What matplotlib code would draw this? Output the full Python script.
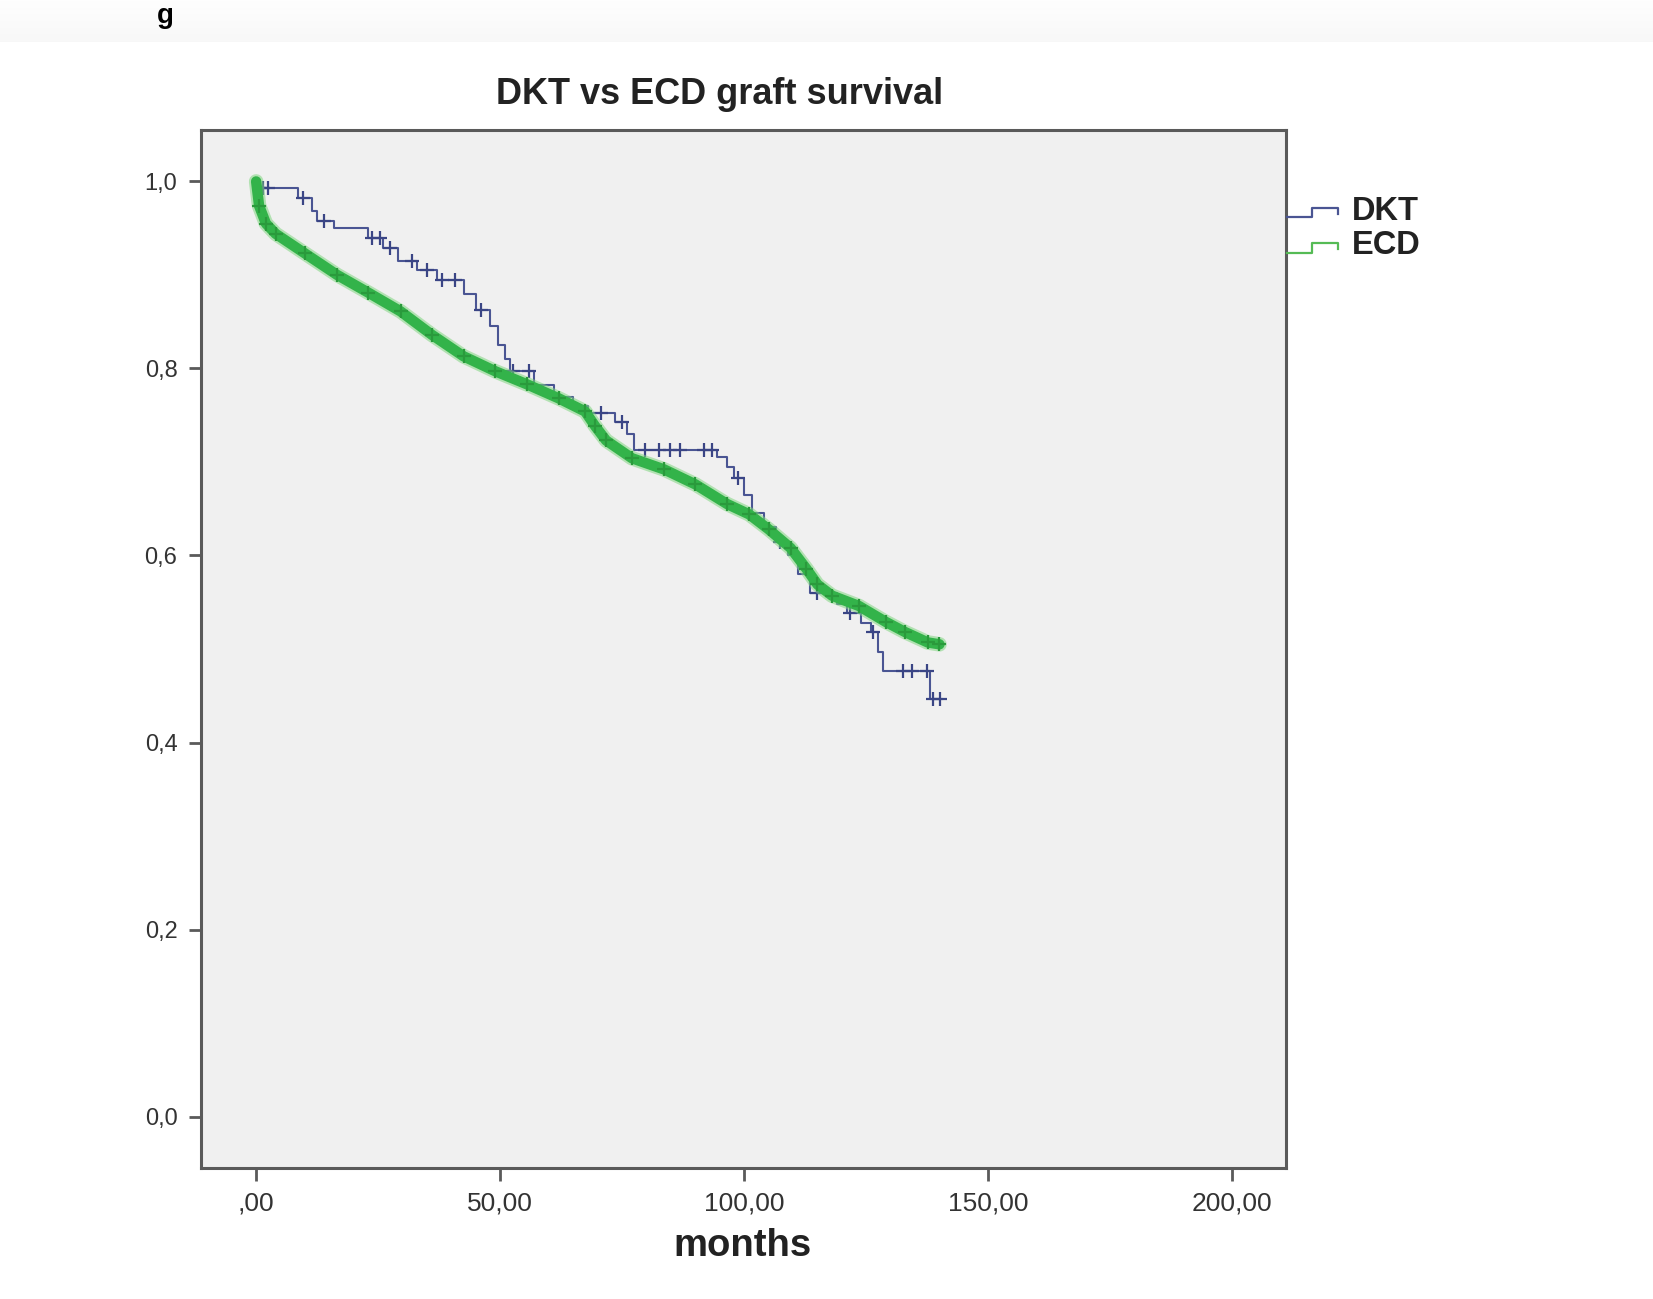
import numpy as np
import matplotlib
matplotlib.use('Agg')
import matplotlib.pyplot as plt
from matplotlib.lines import Line2D

plt.rcParams['font.family'] = ['Liberation Sans', 'DejaVu Sans']

# DKT: шаги кривой Каплана-Мейера (время, выживаемость после шага)
dkt_t = [0, 0.3, 8.5, 11.5, 12.5, 16, 23, 26, 29, 33, 37, 42.5, 45, 48, 49.5, 51, 52,
         57, 61, 65, 68, 73.5, 76, 77.5, 94.5, 96.5, 98, 100, 101.5, 104, 106.5, 109,
         111, 113.5, 119, 121, 124, 126, 127.5, 128.5, 138, 140.5]
dkt_s = [1.0, 0.993, 0.982, 0.968, 0.958, 0.950, 0.940, 0.929, 0.915, 0.905, 0.895, 0.880,
         0.862, 0.845, 0.825, 0.810, 0.797, 0.782, 0.770, 0.760, 0.752, 0.743, 0.730, 0.713,
         0.705, 0.695, 0.683, 0.665, 0.645, 0.630, 0.614, 0.600, 0.580, 0.560, 0.548, 0.538,
         0.528, 0.518, 0.497, 0.476, 0.446, 0.446]
# цензурированные наблюдения DKT
dkt_cens = [0.5, 1.5, 2.5, 9.7, 13.8, 23.8, 25.3, 27.4, 32, 35, 38, 40.8, 46, 52.7, 56,
            70.6, 75, 79.7, 82.5, 84.7, 86.8, 91.8, 93.3, 98.7, 107.3, 115, 121.6, 126.3,
            132.6, 134.3, 137.4, 138.7, 140.2]

# ECD: много мелких шагов, поэтому почти гладкая полоса
ecd_t = [0, 0.6, 2, 4, 10, 16.6, 23, 29.6, 36, 42.5, 49, 55.5, 62, 67.4, 69.5, 71.7, 77,
         83.6, 90, 96.5, 101, 105, 109.5, 112.7, 115, 118, 123.5, 129, 133, 137.6, 140]
ecd_s = [1.0, 0.974, 0.955, 0.944, 0.923, 0.900, 0.881, 0.861, 0.836, 0.813, 0.797, 0.783,
         0.768, 0.754, 0.738, 0.723, 0.704, 0.692, 0.676, 0.655, 0.644, 0.628, 0.608, 0.586,
         0.569, 0.557, 0.546, 0.529, 0.518, 0.507, 0.505]

x_ticks = [0, 50, 100, 150, 200]
x_labels = [',00', '50,00', '100,00', '150,00', '200,00']
y_ticks = [0.0, 0.2, 0.4, 0.6, 0.8, 1.0]
y_labels = ['0,0', '0,2', '0,4', '0,6', '0,8', '1,0']

W, H = 1653, 1299
dkt_color = '#4a5593'
ecd_color = '#33b34a'
spine_color = '#5a5a5a'

fig = plt.figure(figsize=(W / 100, H / 100), dpi=100)
fig.patch.set_facecolor('white')

def fx(px):
    return px / W

def fy(py):
    return 1 - py / H

# лёгкая тень сверху (как на скриншоте)
bg = fig.add_axes([0, fy(42), 1, 42 / H], zorder=-1)
grad = np.linspace(0.01, 0.06, 50).reshape(-1, 1)
bg.imshow(grad, aspect='auto', cmap='Greys', vmin=0, vmax=1, extent=[0, 1, 0, 1])
bg.axis('off')
fig.text(fx(165), fy(16), 'g', fontsize=20, fontweight='bold', ha='center', va='center')

ax = fig.add_axes([fx(201), fy(1168), fx(1286) - fx(201), fy(130) - fy(1168)])
ax.set_facecolor('#f0f0f0')

# DKT
ax.plot(dkt_t, dkt_s, drawstyle='steps-post', color=dkt_color, lw=1.5, zorder=3)
idx = np.searchsorted(dkt_t, dkt_cens, side='right') - 1
cens_s = np.array(dkt_s)[idx]
ax.plot(dkt_cens, cens_s, ls='none', marker='+', ms=10, mew=1.6, color='#3a4585', zorder=3)

# ECD
ax.plot(ecd_t, ecd_s, color='#7fd67f', lw=10.5, solid_capstyle='round', alpha=0.55, zorder=4)
ax.plot(ecd_t, ecd_s, color=ecd_color, lw=7.5, solid_capstyle='round', zorder=4)
ax.plot(ecd_t[1:], ecd_s[1:], ls='none', marker='+', ms=10, mew=1.6, color='#2a9a3c', zorder=5)

ax.set_xlim(-11.3, 211)
ax.set_ylim(-0.055, 1.055)
ax.set_xticks(x_ticks)
ax.set_xticklabels(x_labels, fontsize=19, color='#333333')
ax.set_yticks(y_ticks)
ax.set_yticklabels(y_labels, fontsize=17, color='#333333')
ax.tick_params(direction='out', length=9, width=2, color=spine_color, pad=8)
for sp in ax.spines.values():
    sp.set_color(spine_color)
    sp.set_linewidth(2.2)

fig.text(fx(720), fy(95), 'DKT vs ECD graft survival', fontsize=26, fontweight='bold',
         ha='center', va='center', color='#222222')
fig.text(fx(743), fy(1246), 'months', fontsize=27.5, fontweight='bold',
         ha='center', va='center', color='#222222')

# легенда со ступенькой
for name, col, y_lo, y_hi, y_txt in [('DKT', dkt_color, 217, 208, 211),
                                      ('ECD', '#55bb55', 253, 243, 245)]:
    xs = [fx(1287), fx(1312), fx(1312), fx(1338), fx(1338)]
    ys = [fy(y_lo), fy(y_lo), fy(y_hi), fy(y_hi), fy(y_hi + 6)]
    fig.add_artist(Line2D(xs, ys, transform=fig.transFigure, color=col, lw=1.6))
    fig.text(fx(1352), fy(y_txt), name, fontsize=23.5, fontweight='bold',
             ha='left', va='center', color='#222222')

fig.savefig('out.png', dpi=100)
